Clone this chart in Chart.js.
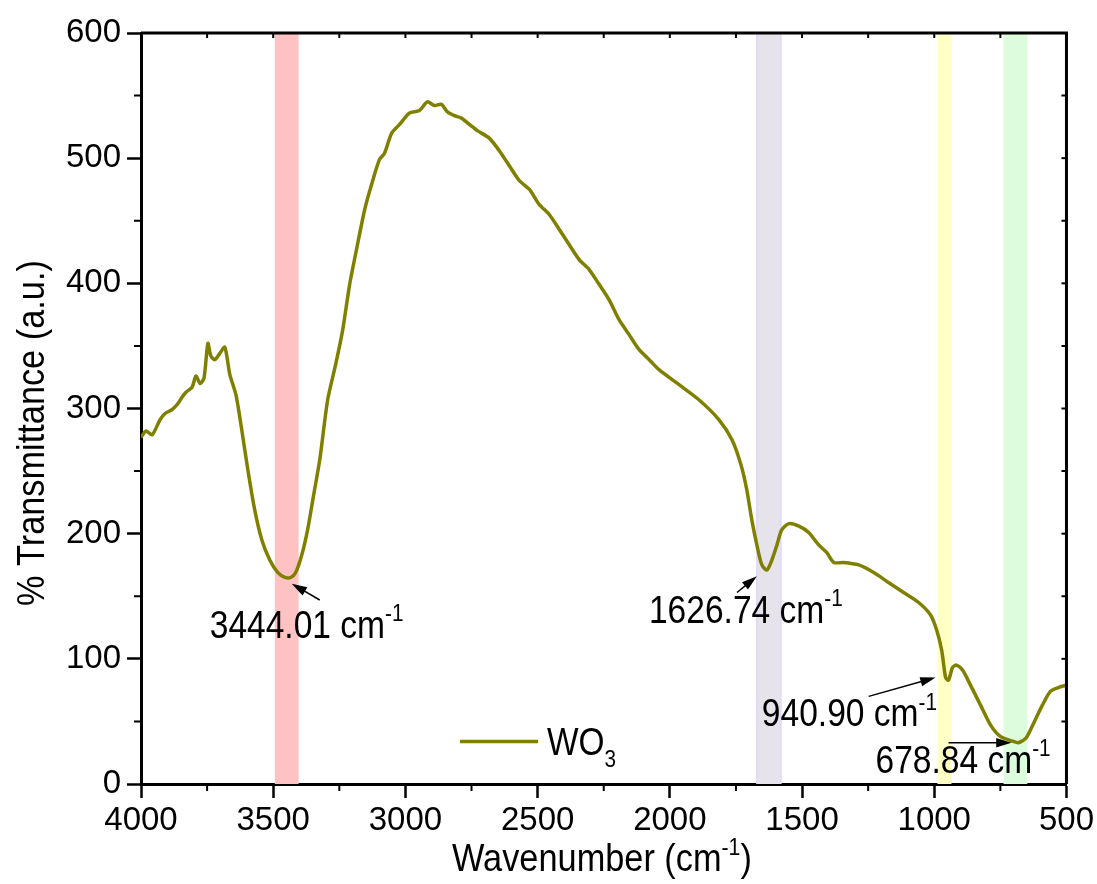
<!DOCTYPE html>
<html>
<head>
<meta charset="utf-8">
<script src="https://cdn.jsdelivr.net/npm/chart.js@4.4.1/dist/chart.umd.min.js"></script>
<style>
  html, body { margin: 0; padding: 0; background: #fff; }
</style>
</head>
<body>
<canvas id="ftir" width="1097" height="884"></canvas>
<script>
// FTIR spectrum of WO3
const wavenumber = [4000,3981,3958,3928,3909,3883,3860,3845,3830,3807,
  3792,3777,3762,3747,3736,3721,3702,3683,3664,3641,
  3619,3596,3570,3543,3513,3483,3456,3434,3415,3392,
  3370,3347,3324,3294,3264,3237,3211,3185,3154,3128,
  3098,3079,3052,3022,2985,2947,2917,2890,2864,2841,
  2815,2788,2758,2728,2683,2645,2607,2569,2531,2494,
  2456,2418,2381,2343,2305,2267,2230,2192,2154,2116,
  2078,2041,1965,1890,1814,1765,1731,1709,1690,1671,
  1652,1633,1614,1595,1577,1550,1512,1475,1437,1407,
  1380,1343,1286,1229,1173,1116,1059,1014,991,972,
  957,946,931,916,893,863,825,787,750,701,
  682,652,621,591,561,531,500]
const transmittance = [277,282,279,291,296,299,304,309,313,317,
  326,320,324,352,342,339,344,349,327,311,
  283,251,219,195,179,169,165,165,169,183,
  203,231,259,307,335,363,399,427,459,479,
  499,504,520,527,536,538,545,542,543,537,
  534,532,527,522,516,506,494,482,475,463,
  455,443,431,419,411,399,387,371,359,347,
  339,331,319,307,291,275,255,235,211,191,
  175,171,179,191,203,208,206,201,191,185,
  177,177,175,169,161,153,145,135,123,107,
  85,83,93,95,91,79,63,47,38,34,
  33,37,50,63,74,77,79]

// shaded bands (cm-1)
const bandFrom = [3494,1671,988,738]
const bandTo = [3404,1580,935,648]
const bandColors = ['#FFC2C2','#E6E3EA','#FFFFC6','#DDFCDD']

// peak labels
const peakText = ['3444.01','1626.74','940.90','678.84']

const FONT = '"Liberation Sans", Arial, sans-serif'

// text with superscript / subscript parts, squeezed a bit horizontally like the original
function richText(ctx, parts, x, y, size, squeeze){
    ctx.save()
    ctx.translate(x, y)
    ctx.scale(squeeze, 1)
    ctx.fillStyle = '#000'
    ctx.textBaseline = 'alphabetic'
    ctx.textAlign = 'left'
    let cx = 0
    parts.forEach(p => {
        let s = p.sup || p.sub ? size*0.62 : size
        let dy = p.sup ? -size*0.42 : (p.sub ? size*0.3 : 0)
        ctx.font = s+'px '+FONT
        ctx.fillText(p.t, cx, dy)
        cx += ctx.measureText(p.t).width
    })
    ctx.restore()
}

function arrow(ctx, x1, y1, x2, y2){
    let ang = Math.atan2(y2-y1, x2-x1)
    let head = 16
    ctx.save()
    ctx.strokeStyle = '#000'
    ctx.fillStyle = '#000'
    ctx.lineWidth = 1.5
    ctx.beginPath()
    ctx.moveTo(x1, y1)
    ctx.lineTo(x2-Math.cos(ang)*head*0.8, y2-Math.sin(ang)*head*0.8)
    ctx.stroke()
    ctx.beginPath()
    ctx.moveTo(x2, y2)
    ctx.lineTo(x2-head*Math.cos(ang-0.3), y2-head*Math.sin(ang-0.3))
    ctx.lineTo(x2-head*Math.cos(ang+0.3), y2-head*Math.sin(ang+0.3))
    ctx.closePath()
    ctx.fill()
    ctx.restore()
}

const bandsPlugin = {
    id: 'bands',
    beforeDatasetsDraw(chart){
        const {ctx, chartArea, scales} = chart
        ctx.save()
        bandFrom.forEach((b, i) => {
            let x1 = scales.x.getPixelForValue(b)
            let x2 = scales.x.getPixelForValue(bandTo[i])
            ctx.fillStyle = bandColors[i]
            ctx.fillRect(x1, chartArea.top, x2-x1, chartArea.bottom-chartArea.top)
        })
        // faint purple edges on the 1626 band
        ctx.strokeStyle = '#E2D6FA'
        ctx.lineWidth = 1.5
        ;[bandFrom[1], bandTo[1]].forEach(v => {
            let x = scales.x.getPixelForValue(v)
            ctx.beginPath(); ctx.moveTo(x, chartArea.top); ctx.lineTo(x, chartArea.bottom); ctx.stroke()
        })
        ctx.restore()
    }
}

const decorPlugin = {
    id: 'decor',
    afterDraw(chart){
        const {ctx, chartArea, scales} = chart
        const X = v => scales.x.getPixelForValue(v)
        const Y = v => scales.y.getPixelForValue(v)
        const {left, right, top, bottom} = chartArea

        ctx.save()
        ctx.strokeStyle = '#000'
        ctx.lineWidth = 3
        // box: top and right
        ctx.beginPath()
        ctx.moveTo(left, top); ctx.lineTo(right, top); ctx.lineTo(right, bottom)
        ctx.stroke()

        ctx.lineWidth = 2
        // minor ticks outward, mirrored ticks inward on top/right
        for(let v=500; v<=4000; v+=250){
            let x = X(v)
            ctx.beginPath()
            if(v % 500 !== 0){ ctx.moveTo(x, bottom); ctx.lineTo(x, bottom+7) }
            ctx.moveTo(x, top); ctx.lineTo(x, top+5)
            ctx.stroke()
        }
        for(let v=0; v<=600; v+=50){
            let y = Y(v)
            ctx.beginPath()
            if(v % 100 !== 0){ ctx.moveTo(left, y); ctx.lineTo(left-7, y) }
            ctx.moveTo(right, y); ctx.lineTo(right-5, y)
            ctx.stroke()
        }
        ctx.restore()

        // axis titles
        richText(ctx, [{t:'Wavenumber (cm'},{t:'-1', sup:true},{t:')'}], 452, 871, 39, 0.88)
        ctx.save()
        ctx.translate(44, 606)
        ctx.rotate(-Math.PI/2)
        richText(ctx, [{t:'% Transmittance (a.u.)'}], 0, 0, 39, 0.88)
        ctx.restore()

        // legend
        const ds = chart.data.datasets[0]
        ctx.save()
        ctx.strokeStyle = ds.borderColor
        ctx.lineWidth = 3.5
        ctx.beginPath(); ctx.moveTo(460, Y(34)); ctx.lineTo(538, Y(34)); ctx.stroke()
        ctx.restore()
        richText(ctx, [{t:'WO'},{t:'3', sub:true}], 547, Y(34)+14, 38, 0.88)

        // peak annotations: label position and arrow in data units
        const notes = [
            {lx:3740, ly:117, ax:[3324,147], at:[3430,160]},
            {lx:2079, ly:129, ax:[1746,153], at:[1671,166]},
            {lx:1652, ly:46, ax:[1248,70], at:[995,85]},
            {lx:1222, ly:9, ax:[946,33], at:[708,33]}
        ]
        notes.forEach((n, i) => {
            arrow(ctx, X(n.ax[0]), Y(n.ax[1]), X(n.at[0]), Y(n.at[1]))
            richText(ctx, [{t:peakText[i]+' cm'},{t:'-1', sup:true}], X(n.lx), Y(n.ly), 39, 0.86)
        })
    }
}

new Chart(document.getElementById('ftir'), {
    type: 'line',
    data: {
        datasets: [{
            label: 'WO3',
            data: wavenumber.map((w, i) => ({x: w, y: transmittance[i]})),
            borderColor: '#808000',
            borderWidth: 3.5,
            pointRadius: 0,
            tension: 0.25,
            fill: false
        }]
    },
    options: {
        responsive: false,
        animation: false,
        devicePixelRatio: 1,
        layout: { padding: {left: 0, right: 29, top: 33, bottom: 0} },
        plugins: {
            legend: { display: false },
            tooltip: { enabled: false }
        },
        scales: {
            x: {
                type: 'linear',
                reverse: true,
                min: 500,
                max: 4000,
                afterFit: s => { s.height = 100 },
                border: { display: true, color: '#000', width: 3 },
                grid: { drawOnChartArea: false, color: '#000', tickLength: 14, tickWidth: 2.5 },
                ticks: { stepSize: 500, color: '#000', padding: 3, maxRotation: 0,
                    callback: v => String(v),
                    font: { family: FONT, size: 33 } }
            },
            y: {
                min: 0,
                max: 600,
                afterFit: s => { s.width = 141 },
                border: { display: true, color: '#000', width: 3 },
                grid: { drawOnChartArea: false, color: '#000', tickLength: 14, tickWidth: 2.5 },
                ticks: { stepSize: 100, color: '#000', padding: 6,
                    callback: v => String(v),
                    font: { family: FONT, size: 33 } }
            }
        }
    },
    plugins: [bandsPlugin, decorPlugin]
})
</script>
</body>
</html>
